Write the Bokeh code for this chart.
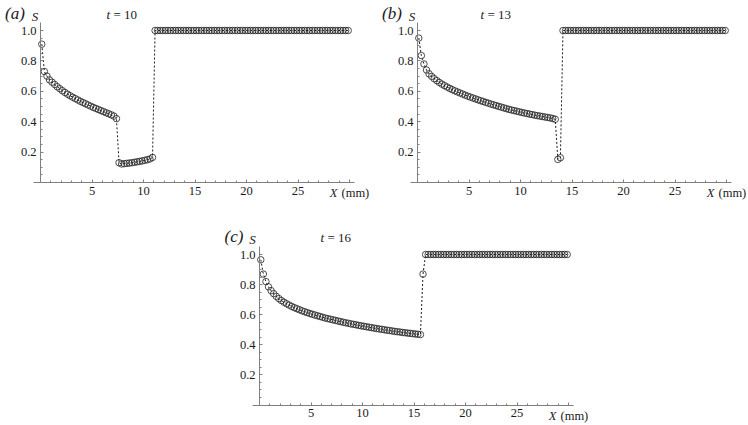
from bokeh.plotting import figure
from bokeh.models import Range1d, FixedTicker, PrintfTickFormatter, Spacer
from bokeh.layouts import row, column
from bokeh.core.properties import value
from bokeh.embed import file_html
from bokeh.resources import INLINE

# ---------------- data ----------------
X_MM = [
    0.125, 0.375, 0.625, 0.875, 1.125, 1.375, 1.625, 1.875,
    2.125, 2.375, 2.625, 2.875, 3.125, 3.375, 3.625, 3.875,
    4.125, 4.375, 4.625, 4.875, 5.125, 5.375, 5.625, 5.875,
    6.125, 6.375, 6.625, 6.875, 7.125, 7.375, 7.625, 7.875,
    8.125, 8.375, 8.625, 8.875, 9.125, 9.375, 9.625, 9.875,
    10.125, 10.375, 10.625, 10.875, 11.125, 11.375, 11.625, 11.875,
    12.125, 12.375, 12.625, 12.875, 13.125, 13.375, 13.625, 13.875,
    14.125, 14.375, 14.625, 14.875, 15.125, 15.375, 15.625, 15.875,
    16.125, 16.375, 16.625, 16.875, 17.125, 17.375, 17.625, 17.875,
    18.125, 18.375, 18.625, 18.875, 19.125, 19.375, 19.625, 19.875,
    20.125, 20.375, 20.625, 20.875, 21.125, 21.375, 21.625, 21.875,
    22.125, 22.375, 22.625, 22.875, 23.125, 23.375, 23.625, 23.875,
    24.125, 24.375, 24.625, 24.875, 25.125, 25.375, 25.625, 25.875,
    26.125, 26.375, 26.625, 26.875, 27.125, 27.375, 27.625, 27.875,
    28.125, 28.375, 28.625, 28.875, 29.125, 29.375, 29.625, 29.875,
]

# (a) t = 10
S_T10 = [
    0.91, 0.73, 0.70, 0.675, 0.66, 0.645, 0.63, 0.617,
    0.604, 0.592, 0.581, 0.571, 0.561, 0.552, 0.543, 0.534,
    0.526, 0.518, 0.51, 0.502, 0.494, 0.487, 0.48, 0.473,
    0.466, 0.459, 0.452, 0.445, 0.437, 0.42, 0.13, 0.122,
    0.124, 0.126, 0.128, 0.13, 0.133, 0.136, 0.139, 0.142,
    0.146, 0.15, 0.155, 0.165, 1.0, 1.0, 1.0, 1.0,
] + [1.0] * 72

# (b) t = 13
S_T13 = [
    0.95, 0.835, 0.78, 0.74, 0.715, 0.698, 0.683, 0.67,
    0.658, 0.647, 0.637, 0.628, 0.619, 0.611, 0.603, 0.596,
    0.589, 0.582, 0.575, 0.568, 0.562, 0.556, 0.55, 0.544,
    0.538, 0.533, 0.527, 0.522, 0.516, 0.511, 0.506, 0.501,
    0.496, 0.491, 0.486, 0.481, 0.477, 0.473, 0.469, 0.465,
    0.461, 0.457, 0.454, 0.45, 0.447, 0.443, 0.44, 0.437,
    0.434, 0.431, 0.428, 0.425, 0.421, 0.416, 0.152, 0.163,
] + [1.0] * 64

# (c) t = 16
S_T16 = [
    0.965, 0.87, 0.82, 0.785, 0.76, 0.74, 0.722, 0.707,
    0.694, 0.683, 0.673, 0.664, 0.655, 0.647, 0.64, 0.633,
    0.626, 0.62, 0.614, 0.608, 0.603, 0.598, 0.593, 0.588,
    0.583, 0.578, 0.574, 0.57, 0.566, 0.562, 0.558, 0.554,
    0.55, 0.546, 0.543, 0.539, 0.536, 0.533, 0.529, 0.526,
    0.523, 0.52, 0.517, 0.514, 0.511, 0.508, 0.505, 0.503,
    0.5, 0.497, 0.495, 0.492, 0.489, 0.487, 0.485, 0.482,
    0.48, 0.478, 0.476, 0.474, 0.472, 0.47, 0.468, 0.87,
] + [1.0] * 56

PANEL_TAGS = ["(a)", "(b)", "(c)"]
TIME_LABELS = ["= 10", "= 13", "= 16"]
X_TICKS = [5, 10, 15, 20, 25, 30]
X_TICK_TEXT = {30: ""}
X_MINOR = [1, 2, 3, 4, 6, 7, 8, 9, 11, 12, 13, 14, 16, 17, 18, 19,
           21, 22, 23, 24, 26, 27, 28, 29]
Y_TICKS = [0.2, 0.4, 0.6, 0.8, 1.0]
Y_MINOR = [0.05, 0.1, 0.15, 0.25, 0.3, 0.35, 0.45, 0.5, 0.55,
           0.65, 0.7, 0.75, 0.85, 0.9, 0.95]
X_AXIS_BOUNDS = (-0.7, 30.5)
Y_AXIS_BOUNDS = (0, 1.05)

SERIF = "Liberation Serif"
AXIS_GRAY = "#808080"
INK = "#1a1a1a"
XS = 10.3    # px per mm


def make_panel(svals, tag, tlabel, width, height, ox, oy, ys,
               t_dx, tag_dy, s_dx, xlab_dx):
    # ox, oy: pixel position of the origin inside this canvas (from top-left)
    p = figure(width=width, height=height, output_backend="svg",
               toolbar_location=None, min_border=0,
               x_range=Range1d(-ox / XS, (width - ox) / XS),
               y_range=Range1d(-(height - oy) / ys, oy / ys))
    p.outline_line_color = None
    p.grid.visible = False
    p.background_fill_color = "white"
    p.border_fill_color = "white"

    xa = p.xaxis[0]
    xa.fixed_location = 0
    xa.bounds = X_AXIS_BOUNDS
    xa.ticker = FixedTicker(ticks=X_TICKS, minor_ticks=X_MINOR)
    xa.major_label_overrides = X_TICK_TEXT
    ya = p.yaxis[0]
    ya.fixed_location = 0
    ya.bounds = Y_AXIS_BOUNDS
    ya.ticker = FixedTicker(ticks=Y_TICKS, minor_ticks=Y_MINOR)
    ya.formatter = PrintfTickFormatter(format="%.1f")
    for ax in (xa, ya):
        ax.axis_line_color = AXIS_GRAY
        ax.axis_line_width = 1
        ax.major_tick_line_color = AXIS_GRAY
        ax.minor_tick_line_color = AXIS_GRAY
        ax.major_tick_in = 3
        ax.major_tick_out = 0
        ax.minor_tick_in = 2
        ax.minor_tick_out = 0
        ax.major_label_text_font = SERIF
        ax.major_label_text_font_size = "12.5px"
        ax.major_label_text_color = INK
        ax.major_label_standoff = 4

    p.line(X_MM, svals, line_color="black", line_width=0.9, line_dash="2 2")
    p.scatter(X_MM, svals, marker="circle", size=6.5, fill_color=None,
              line_color="#222222", line_width=0.8)

    def lab(text, x, y, size, style, align):
        p.text(x=[x], y=[y], text=[text], text_font=value(SERIF),
               text_font_size=size, text_font_style=style, text_color=INK,
               text_align=align, text_baseline="middle")

    top = Y_AXIS_BOUNDS[1]
    lab(tag, -25.5 / XS, top + tag_dy / ys, "17px", "italic", "center")
    lab("S", s_dx / XS, top + (tag_dy - 3) / ys, "13px", "italic", "center")
    lab("t", t_dx / XS, top + (tag_dy - 1) / ys, "13px", "italic", "left")
    lab(tlabel, (t_dx + 7) / XS, top + (tag_dy - 1) / ys, "13px", "normal",
        "left")
    lab("X", 30 + (xlab_dx - 12) / XS, -10.5 / ys, "12.5px", "italic", "right")
    lab("(mm)", 30 + (xlab_dx - 8) / XS, -10.5 / ys, "12.5px", "normal", "left")
    return p


pa = make_panel(S_T10, PANEL_TAGS[0], TIME_LABELS[0], 370, 218, 40, 182, 152.0,
                66, 9.4, -5.5, 0)
pb = make_panel(S_T13, PANEL_TAGS[1], TIME_LABELS[1], 377, 218, 47, 182, 152.0,
                63, 9.4, -5.5, 0)
pc = make_panel(S_T16, PANEL_TAGS[2], TIME_LABELS[2], 400, 206, 47, 186.5, 150.5,
                61, 10, -7, 0)

layout = column(row(pa, pb), row(Spacer(width=212, height=206), pc))

open("out.html", "w").write(file_html(layout, INLINE))
